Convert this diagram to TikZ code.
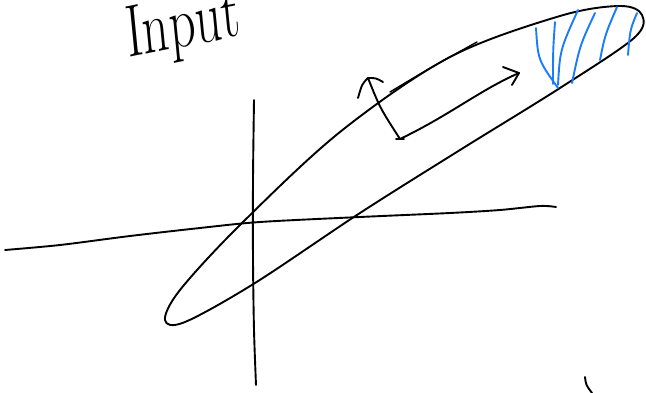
\documentclass[tikz,border=0pt]{standalone}
\usepackage{xcolor}
\usepackage{tikz}

\definecolor{hatchblue}{RGB}{25,125,250}

\begin{document}
\begin{tikzpicture}[x=1pt, y=-1pt,
    pen/.style={draw=black, line width=1.9pt, line cap=round, line join=round},
    hatch/.style={draw=hatchblue, line width=1.9pt, line cap=round, line join=round},
    label/.style={font=\fontsize{74}{74}\selectfont, inner sep=0pt, xscale=0.7, rotate=8}]

    \useasboundingbox (0,0) rectangle (646,393);

    % Title
    \node[label, anchor=base west] (title) at (128,58) {Input};

    % Axes
    \draw[pen] plot[smooth] coordinates {(5,250) (60,245) (130,236) (200,228) (260,222) (360,217) (450,213) (500,210) (540,206) (556,207)};
    \draw[pen] plot[smooth] coordinates {(254,100) (253,180) (253,260) (254,330) (256,385)};

    % Ellipse
    \draw[pen] plot[smooth cycle, tension=0.55] coordinates {
        (165,320) (180,290) (240,225) (340,132) (450,57) (560,16) (620,6) (642,15)
        (634,38) (560,88) (460,150) (360,213) (255,283) (185,322)};
    \draw[pen, line width=1.4pt] (390,92) .. controls (430,68) .. (477,42);

    % Vectors
    \coordinate (corner) at (400,139);
    \coordinate (up) at (368,78);
    \coordinate (right) at (519,73);
    \draw[pen] (corner) .. controls (380,108) .. (up);
    \draw[pen] (358,98) .. controls (362,84) .. (up) .. controls (376,78) .. (383,82);
    \draw[pen] (corner) .. controls (450,115) and (480,90) .. (right);
    \draw[pen] (503,67) -- (right) -- (512,85);
    \draw[pen] (396,139) -- (404,139);

    % Shaded tip
    \draw[hatch] (536,28) .. controls (538,60) .. (558,88);
    \draw[hatch] (555,22) .. controls (553,50) .. (553,84);
    \draw[hatch] (578,10) .. controls (560,50) .. (558,85);
    \draw[hatch] (595,13) .. controls (580,45) .. (572,83);
    \draw[hatch] (617,7) .. controls (605,35) .. (600,60);
    \draw[hatch] (637,13) .. controls (630,30) .. (628,55);

    % Stray mark
    \draw[pen] (585,377) .. controls (586,385) .. (592,393);
\end{tikzpicture}
\end{document}
